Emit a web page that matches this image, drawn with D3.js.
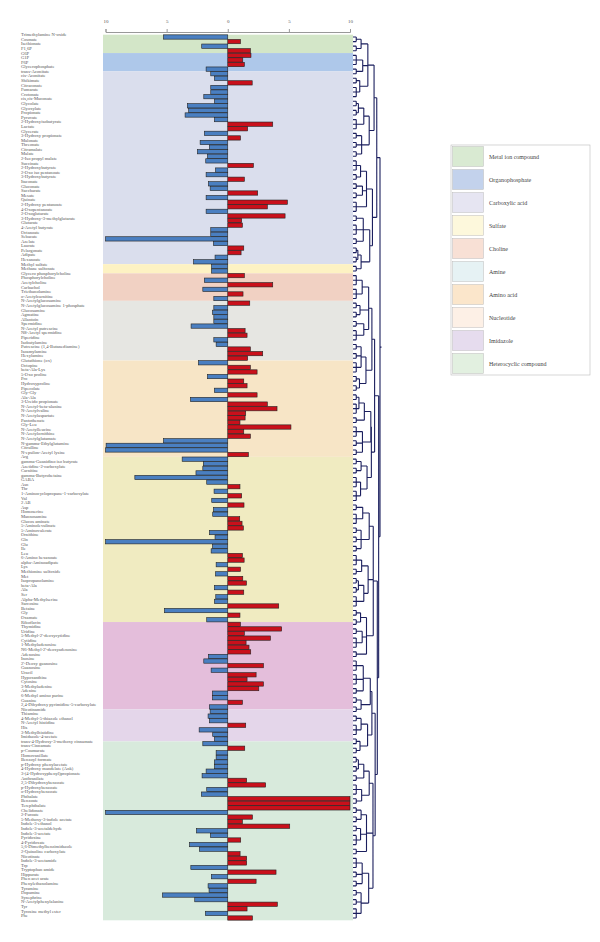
<!DOCTYPE html>
<html>
<head>
<meta charset="utf-8">
<script src="https://cdn.jsdelivr.net/npm/d3@7"></script>
<style>
  body { margin: 0; background: #fff; }
  svg { display: block; }
</style>
</head>
<body>
<div id="chart"></div>
<script>
// metabolite names, top to bottom
var metabolites = [
  'Trimethylamine N-oxide','Cosmate','Isethionate','F1,6P','G6P','G1P','F6P','Glycerophosphate',
  'trans-Aconitate','cis-Aconitate','Shikimate','Citraconate','Fumarate','Crotonate','cis,cis-Muconate','Glycolate',
  'Glyoxylate','Propionate','Pyruvate','2-Hydroxyisobutyrate','Lactate','Glycerate','3-Hydroxy propionate','Malonate',
  'Threonate','Citramalate','Malate','2-Iso propyl malate','Succinate','2-Hydroxybutyrate','2-Oxo iso pentanoate','3-Hydroxybutyrate',
  'Itaconate','Gluconate','Saccharate','Mesate','Quinate','2-Hydroxy pentanoate','4-Oxopentanoate','2-Oxoglutarate',
  '3-Hydroxy-3-methylglutarate','Glutarate','4-Acetyl butyrate','Octanoate','Sebacate','Azelate','Laurate','Pelargonate',
  'Adipate','Hexanoate','Methyl sulfate','Methane sulfonate','Glycero phosphorylcholine','Phosphorylcholine','Acetylcholine','Carbachol',
  'Triethanolamine','o-Acetylcarnitine','N-Acetylglucosamine','N-Acetylglucosamine 1-phosphate','Glucosamine','Agmatine','Allantoin','Spermidine',
  'N-Acetyl putrescine','N8-Acetyl spermidine','Piperidine','Isobutylamine','Putrescine (1,4-Butanediamine)','Isoamylamine','Hexylamine','Glutathione (ox)',
  'Octopine','beta-Ala-Lys','5-Oxo proline','Pro','Hydroxyproline','Pipecolate','Gly-Gly','Ala-Ala',
  '3-Ureido propionate','N-Acetyl-beta-alanine','N-Acetylvaline','N-Acetylaspartate','Pantothenate','Gly-Leu','N-Acetylleucine','N-Acetylornithine',
  'N-Acetylglutamate','N-gamma-Ethylglutamine','Citrulline','N-epsilon-Acetyl lysine','Arg','gamma-Guanidino iso butyrate','Azetidine-2-carboxylate','Carnitine',
  'gamma-Butyrobetaine','GABA','Asn','Thr','1-Aminocyclopropane-1-carboxylate','Val','2 AB','Asp',
  'Homoserine','Mannosamine','Glucos aminate','5-Aminolevulinate','5-Aminovalerate','Ornithine','Gln','Glu',
  'Ile','Leu','6-Amino hexanoate','alpha-Aminoadipate','Lys','Methionine sulfoxide','Met','Isopropanolamine',
  'beta-Ala','Ala','Ser','Alpha-Methylserine','Sarcosine','Betaine','Gly','Oxamate',
  'Riboflavin','Thymidine','Uridine','5-Methyl-2\'-deoxycytidine','Cytidine','1-Methyladenosine','N6-Methyl-2\'-deoxyadenosine','Adenosine',
  'Inosine','2\'-Deoxy guanosine','Guanosine','Uracil','Hypoxanthine','Cytosine','3-Methyladenine','Adenine',
  '6-Methyl amino purine','Guanine','2,4-Dihydroxy pyrimidine-5-carboxylate','Nicotinamide','Thiamine','4-Methyl-5-thiazole ethanol','N-Acetyl histidine','His',
  '3-Methylhistidine','Imidazole-4-acetate','trans-4-Hydroxy-3-methoxy cinnamate','trans-Cinnamate','p-Coumarate','Homovanillate','Benzoyl formate','p-Hydroxy phenylacetate',
  '4-Hydroxy mandelate (Ank)','3-(4-Hydroxyphenyl)propionate','Anthranilate','2,5-Dihydroxybenzoate','p-Hydroxybenzoate','o-Hydroxybenzoate','Phthalate','Benzoate',
  'Terephthalate','Chelidonate','2-Furoate','5-Methoxy-3-indole acetate','Indole-3-ethanol','Indole-3-acetaldehyde','Indole-3-acetate','Pyridoxine',
  '4-Pyridoxate','5,6-Dimethylbenzimidazole','2-Quinoline carboxylate','Nicotinate','Indole-3-acetamide','Trp','Tryptophan amide','Hippurate',
  'Phen acet urate','Phenylethanolamine','Tyramine','Dopamine','Synephrine','N-Acetylphenylalanine','Tyr','Tyrosine methyl ester',
  'Phe'
];

// log2 fold change, same order
var values = [
  -5.26, 1.04, -2.13, 1.85, 1.9, 1.23, 1.36, -1.77,
  -1.39, -1.09, 2.0, -1.39, -1.39, -1.96, -1.09, -3.3,
  -3.2, -3.49, -1.09, 3.68, 1.63, -1.91, 1.04, -2.26,
  -1.5, -2.48, -1.66, -1.8, 2.1, -1.0, -1.77, 1.36,
  -1.58, -1.44, 2.45, -1.77, 4.88, 3.24, -1.77, 4.69,
  1.14, 1.2, -1.39, -1.39, -10, -1.17, 1.31, 1.09,
  -1.04, -2.8, -1.33, -1.33, 1.36, -1.91, 3.68, -2.04,
  1.25, -1.14, 1.8, -1.14, -1.25, -1.14, -1.14, -3.0,
  1.42, 1.58, -1.14, -0.95, 1.85, 2.86, 1.63, -2.4,
  1.85, 2.4, -1.66, 1.31, 1.58, -1.09, 2.4, -3.05,
  3.24, 4.03, 1.47, 1.42, 1.0, 5.17, 1.31, 1.85,
  -5.26, -9.95, -10, 1.69, -3.73, -2.0, -2.04, -2.6,
  -7.6, -1.72, 1.0, -1.12, 1.14, -1.31, 1.33, -1.17,
  -1.23, 0.98, 1.17, 1.28, -1.5, -1.04, -10, -1.25,
  -1.36, 1.2, 1.34, -0.95, 1.04, -1.0, 1.23, 1.53,
  -1.09, 1.31, -0.98, -1.09, 4.17, -5.18, 1.0, -1.72,
  1.04, 4.41, 1.36, 3.49, 1.5, 1.74, 1.88, -1.58,
  -1.96, 2.92, -1.36, 2.32, 1.58, 2.92, 2.54, -1.25,
  -1.25, 1.2, -1.5, -1.44, -1.61, -1.5, 1.47, -2.34,
  -1.23, -1.09, -2.04, 1.39, -0.95, -0.95, -1.09, -1.09,
  -1.77, -2.1, 1.55, 3.1, -1.72, -2.16, 10, 10,
  10, -10, 2.02, 1.2, 5.07, -2.56, -1.42, 1.06,
  -3.13, -2.32, 1.01, 1.55, 1.55, -3.02, 3.95, -1.34,
  2.32, -1.61, -1.53, -5.34, -2.7, 4.06, 1.58, -1.83,
  2.02
];

// background bands: first row of each block
var bandStart = [0, 4, 8, 50, 52, 58, 71, 92, 128, 147, 154];
var bandColors = ['#d3e6c8', '#aec8ea', '#dadeed', '#fdf2c3', '#f1d1c3', '#e6e6e2',
                  '#f7e5c6', '#f0ebc1', '#e4bedb', '#e4d6ea', '#d8eadc'];

var legendNames = ['Metal ion compound', 'Organophosphate', 'Carboxylic acid', 'Sulfate', 'Choline',
                   'Amine', 'Amino acid', 'Nucleotide', 'Imidazole', 'Heterocyclic compound'];
var legendColors = ['#d9ead2', '#c3d2ec', '#e6e5f2', '#fdf8dc', '#f8e0d5',
                    '#e6f2f4', '#fbe6cb', '#fdf0e6', '#e6dcee', '#e2f0e0'];

var axisTicks = [-10, -5, 0, 5, 10];

// dendrogram clusters: [height, children...]; a number = block of leaves joined low
var c1 = [0.55, [0.3, 2, 2], [0.36, 3, 2], [0.25, 2, 3]];
var c2 = [0.6, [0.4, [0.2, 2, 2], 3], [0.32, 2, 2, 2]];
var c3 = [0.5, [0.28, 3, 2], [0.35, 2, 2], [0.22, 3]];
var c4 = [0.62, [0.38, 2, 3, 2], [0.3, [0.18, 2, 2], 2]];
var c5 = [0.58, [0.34, 3, 3], [0.26, 2, 2], [0.4, 2, 3]];
var c6 = [0.48, [0.3, 2, 2, 3], [0.24, 2, 2]];
var c7 = [0.66, [0.42, [0.22, 2, 3], 2], [0.35, 3, 2, 2]];
var c8 = [0.52, [0.3, 2, 2], [0.28, 3, 3]];
var c9 = [0.6, [0.36, 2, 3], [0.3, 2, 2, 2]];
var c10 = [0.56, [0.32, 3, 2], [0.4, [0.2, 2, 2], 3]];
var c11 = [0.5, [0.28, 2, 2], [0.34, 2, 3], [0.22, 2]];
var c12 = [0.64, [0.38, 3, 3, 2], [0.3, 2, 2]];
var c13 = [0.54, [0.3, 2, 3], [0.26, 2, 2]];
var c14 = [0.6, [0.4, [0.2, 2, 2], 2], [0.32, 3, 2]];
var c15 = [0.5, [0.3, 2, 2], [0.28, 2, 3], [0.2, 2]];
var c16 = [0.58, [0.34, 3, 2, 2], [0.3, 2, 2, 3]];
var tree = [1,
  [0.88, [0.78, c1, c2], [0.72, c3, c4]],
  [0.95,
    [0.8, [0.7, c5, c6], [0.68, c7, c8]],
    [0.9, [0.75, c9, c10, c11], [0.82, [0.7, c12, c13], [0.74, c14, c15, c16]]]
  ]
];

var width = 600, height = 942;
var svg = d3.select('#chart').append('svg').attr('width', width).attr('height', height);
var font = '"Liberation Serif", "DejaVu Serif", serif';

var x = d3.scaleLinear().domain([-10, 10]).range([105.5, 350]);
var y = d3.scaleBand().domain(d3.range(metabolites.length))
  .range([34.7, 920.3]).paddingInner(0.06).paddingOuter(0.03);
var half = y.step() * y.paddingInner() / 2;

function rowTop(i) {
  return i >= metabolites.length ? y.range()[1] : y(i) - half;
}

// bands
var bands = svg.append('g');
bandStart.forEach(function(s, i) {
  var e = i + 1 < bandStart.length ? bandStart[i + 1] : metabolites.length;
  bands.append('rect')
    .attr('x', 103).attr('width', 250)
    .attr('y', rowTop(s)).attr('height', rowTop(e) - rowTop(s))
    .attr('fill', bandColors[i]);
});

// top axis
var axis = svg.append('g').attr('transform', 'translate(0,32)')
  .call(d3.axisTop(x).tickValues(axisTicks).tickSize(3).tickPadding(6)
    .tickFormat(function(d) { return Math.abs(d); }));
axis.select('.domain').attr('stroke', '#999');
axis.selectAll('.tick line').attr('stroke', '#999');
axis.selectAll('.tick text').attr('font-family', font).attr('font-size', 5).attr('fill', '#555');

// bars
svg.append('g').selectAll('rect').data(values).enter().append('rect')
  .attr('x', function(d) { return x(Math.min(0, d)); })
  .attr('width', function(d) { return Math.abs(x(d) - x(0)); })
  .attr('y', function(d, i) { return y(i); })
  .attr('height', y.bandwidth())
  .attr('fill', function(d) { return d < 0 ? '#4a7fc1' : '#c9101b'; })
  .attr('stroke', '#222').attr('stroke-width', 0.6);

// labels
svg.append('g').selectAll('text').data(metabolites).enter().append('text')
  .attr('x', 21)
  .attr('y', function(d, i) { return y(i) + y.bandwidth() / 2 - 2.3; })
  .attr('dominant-baseline', 'central')
  .attr('font-family', font).attr('font-size', 4.6).attr('fill', '#555')
  .text(function(d) { return d; });

// dendrogram
function build(spec) {
  if (typeof spec === 'number') {
    if (spec === 1) return {};
    return { h: 0.12, children: d3.range(spec).map(function() { return {}; }) };
  }
  return { h: spec[0], children: spec.slice(1).map(build) };
}
var xd = d3.scaleLinear().domain([0, 1]).range([353, 380]);
var root = d3.hierarchy(build(tree));
root.leaves().forEach(function(l, i) {
  l.yy = y(i) + y.bandwidth() / 2;
  l.xx = xd(0);
});
root.eachAfter(function(n) {
  if (!n.children) return;
  n.xx = xd(n.data.h);
  n.yy = (n.children[0].yy + n.children[n.children.length - 1].yy) / 2;
});
var path = d3.path();
root.each(function(n) {
  if (!n.children) return;
  var c0 = n.children[0], c1 = n.children[n.children.length - 1];
  path.moveTo(n.xx, c0.yy); path.lineTo(n.xx, c1.yy);
  n.children.forEach(function(c) { path.moveTo(c.xx, c.yy); path.lineTo(n.xx, c.yy); });
});
path.moveTo(root.xx, root.yy); path.lineTo(root.xx + 1.5, root.yy);
svg.append('path').attr('d', path.toString())
  .attr('fill', 'none').attr('stroke', '#1b1f5e').attr('stroke-width', 1.1);

// legend
var lg = svg.append('g').attr('transform', 'translate(451,145)');
lg.append('rect').attr('width', 139).attr('height', 230)
  .attr('fill', '#fff').attr('stroke', '#bbb').attr('stroke-width', 0.6);
legendNames.forEach(function(name, i) {
  lg.append('rect').attr('x', 1.5).attr('y', 1.5 + i * 23).attr('width', 31).attr('height', 20)
    .attr('fill', legendColors[i]).attr('stroke', '#bbb').attr('stroke-width', 0.5);
  lg.append('text').attr('x', 38).attr('y', 12 + i * 23)
    .attr('dominant-baseline', 'central')
    .attr('font-family', font).attr('font-size', 6).attr('fill', '#444')
    .text(name);
});
</script>
</body>
</html>
